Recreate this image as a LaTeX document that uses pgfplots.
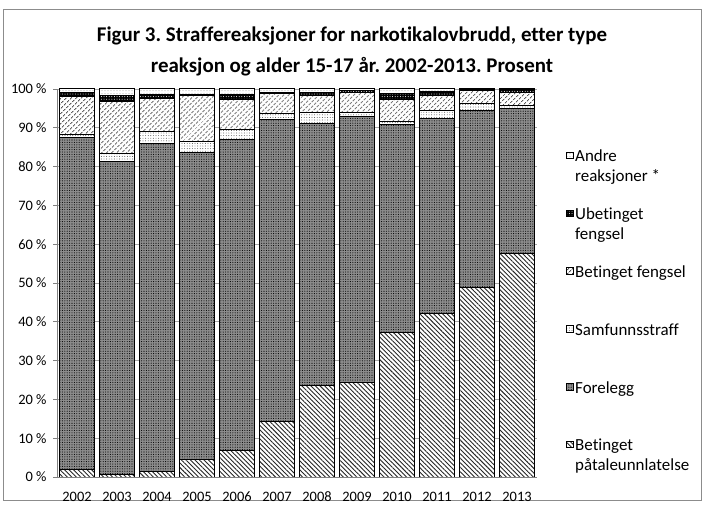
\documentclass[border=0pt]{standalone}
\usepackage{fontspec}
\setmainfont{Carlito}[Ligatures=NoCommon]
\usepackage{pgfplots}
\pgfplotsset{compat=1.18}
\usetikzlibrary{patterns.meta}
\frenchspacing

\pgfplotstableread{
x bpu for samf bf ubet andre
0 2.0 85.6 0.6 9.9 1.1 0.8
1 0.6 80.8 1.9 13.5 1.4 1.8
2 1.4 84.5 3.2 8.4 1.1 1.4
3 4.6 79.0 2.9 11.7 0.3 1.5
4 6.8 80.2 2.6 7.7 1.2 1.5
5 14.4 77.7 1.7 5.1 0.2 0.9
6 23.7 67.5 2.7 4.5 0.8 0.8
7 24.4 68.4 1.1 5.1 0.6 0.4
8 37.3 53.5 0.9 5.6 1.5 1.2
9 42.2 50.3 2.0 3.9 1.0 0.6
10 48.9 45.6 1.7 3.5 0.2 0.1
11 57.7 37.4 0.7 3.4 0.6 0.2
}\data

\begin{document}
\begin{tikzpicture}
\path (0bp,0bp) rectangle (705bp,503bp);
\draw[black!45, line width=0.8bp] (3bp,3bp) rectangle (701bp,494bp);
\node[font=\bfseries\fontsize{21}{30.5}\selectfont, align=center] at (352bp,451.5bp)
 {Figur 3. Straffereaksjoner for narkotikalovbrudd, etter type\\reaksjon og alder 15-17 år. 2002-2013. Prosent};
\begin{axis}[
 at={(57bp,26bp)}, anchor=south west,
 width=480bp, height=388bp, scale only axis,
 ybar stacked, bar width=35bp,
 xmin=-0.5, xmax=11.5, ymin=0, ymax=100,
 xtick={0,...,11},
 xticklabels={2002,2003,2004,2005,2006,2007,2008,2009,2010,2011,2012,2013},
 ytick={0,10,...,100},
 minor xtick={-0.5,0.5,...,11.5},
 xtick style={draw=none},
 minor x tick style={black!50, line width=0.6bp},
 ytick style={black!50, line width=0.6bp},
 tick align=outside,
 major tick length=4bp, minor tick length=5bp,
 axis x line*=bottom, axis y line*=left,
 axis line style={black!50, line width=0.6bp},
 ymajorgrids, grid style={black!35, line width=0.6bp},
 /pgf/number format/assume math mode=true,
 yticklabel={\pgfmathprintnumber{\tick}\hspace{0.22em}\%},
 tick label style={font=\fontsize{14.5}{16}\selectfont},
 yticklabel style={xshift=-3bp},
 xticklabel style={anchor=north, text height=10bp, text depth=0bp, yshift=-7bp},
 every axis plot/.append style={draw=black, line width=1bp},
 reverse legend,
 legend cell align=left,
 legend style={at={(1.060,0.848)}, anchor=north west, draw=none, fill=none,
   font=\fontsize{17}{20}\selectfont, row sep=29bp, inner sep=0pt},
 legend image code/.code={\draw[#1, line width=0.6bp] (0bp,3.8bp) rectangle (6.6bp,10.4bp);},
]
\addplot[fill=white, postaction={pattern={Lines[angle=-45, distance=3.2bp, line width=0.9bp]}, pattern color=black!85}] table[x=x,y=bpu]{\data};
\addplot[fill=black!45, postaction={pattern={Dots[distance=2.4bp, radius=0.55bp]}, pattern color=black}] table[x=x,y=for]{\data};
\addplot[fill=white, postaction={pattern={Dots[distance=2.6bp, radius=0.45bp]}, pattern color=black!80}] table[x=x,y=samf]{\data};
\addplot[fill=white, postaction={pattern={Lines[angle=45, distance=3.6bp, line width=1.1bp]}, pattern color=black!70}] table[x=x,y=bf]{\data};
\addplot[fill=black, postaction={pattern={Dots[distance=2.6bp, radius=0.5bp]}, pattern color=white}] table[x=x,y=ubet]{\data};
\addplot[fill=white, postaction={pattern={Dots[distance=3bp, radius=0.4bp]}, pattern color=black!70}] table[x=x,y=andre]{\data};
\addlegendentry{\parbox[c][38bp][t]{125bp}{Betinget\\påtaleunnlatelse}}
\addlegendentry{\parbox[c][38bp][t]{125bp}{Forelegg}}
\addlegendentry{\parbox[c][38bp][t]{125bp}{Samfunnsstraff}}
\addlegendentry{\parbox[c][38bp][t]{125bp}{Betinget fengsel}}
\addlegendentry{\parbox[c][38bp][t]{125bp}{Ubetinget\\fengsel}}
\addlegendentry{\parbox[c][38bp][t]{125bp}{Andre\\reaksjoner *}}
\end{axis}
\end{tikzpicture}
\end{document}
